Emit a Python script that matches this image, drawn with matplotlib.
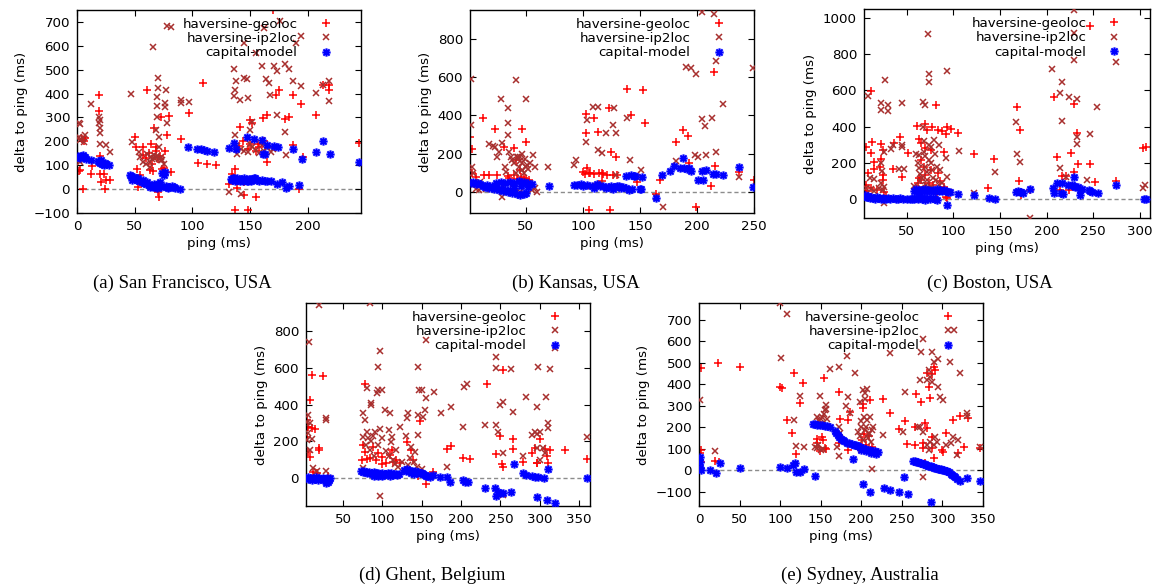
import matplotlib
matplotlib.use("Agg")
import matplotlib.pyplot as plt
from matplotlib.path import Path

# ---------------- data: (a) San Francisco ----------------
sf_geo_x = [1,2,3,5,6,4,7,12,13,19,19,20,20,21,23,24,25,29,
            50,51,52,53,55,57,57,60,61,62,63,64,65,66,67,68,68,70,70,71,72,73,74,75,76,78,80,81,90,97,105,109,113,120,
            132,134,135,137,139,137,140,141,144,145,145,148,148,150,150,152,155,155,157,158,161,162,165,165,170,172,175,180,184,187,187,192,194,196,207,213,218,218,244]
sf_geo_y = [120,75,78,0,200,210,215,65,96,395,325,65,140,30,65,0,37,37,
            217,177,86,8,60,177,142,130,416,150,80,191,107,75,257,177,160,125,-13,-34,140,304,86,90,159,226,307,72,208,318,110,444,104,100,
            22,65,45,86,4,-86,180,262,200,-24,30,-87,170,290,190,278,-34,160,191,175,297,200,114,311,748,395,416,292,304,395,184,1,357,135,311,437,437,416,194]
sf_ip_x = [2,3,2,3,5,6,7,2,3,12,19,19,20,20,20,20,25,29,
           47,48,54,55,57,60,61,63,63,64,65,66,67,67,68,68,69,69,69,69,70,70,71,71,71,73,73,74,75,76,76,77,78,78,81,90,90,97,
           132,136,137,138,136,137,139,139,141,142,142,145,147,148,150,145,145,148,150,152,152,155,155,158,160,160,162,162,164,166,165,167,168,170,171,173,173,176,180,180,181,184,187,190,194,194,207,213,218,218]
sf_ip_y = [276,273,219,205,212,198,226,121,114,357,304,276,255,233,191,290,184,156,
           400,198,156,135,114,107,146,93,112,135,125,595,142,130,135,248,384,349,304,140,466,423,219,177,128,135,120,121,105,360,343,416,276,684,679,374,360,363,
           -13,501,416,451,388,226,181,149,374,-20,170,466,459,381,248,613,160,155,190,283,175,571,165,150,515,185,676,160,459,444,175,395,155,170,515,494,311,705,522,240,142,501,451,613,433,641,402,437,367,451]
sf_cap_x = [1,2,3,4,5,6,7,8,12,18,19,20,21,22,23,24,25,28,
            46,47,48,49,50,52,53,54,56,57,58,60,61,62,63,64,65,66,67,68,69,70,71,72,73,74,75,76,77,78,79,80,82,84,85,89,
            96,104,107,110,113,119,132,
            133,134,135,136,137,138,139,140,141,142,143,144,145,146,147,148,149,150,151,152,153,154,156,158,160,163,165,168,
            136,138,147,153,160,161,163,165,171,174,173,178,181,184,187,192,195,207,213,219,244]
sf_cap_y = [140,135,130,138,142,133,136,128,124,118,112,108,120,105,100,110,104,100,
            60,55,40,50,45,38,48,35,30,40,25,20,30,18,8,15,12,10,20,8,5,20,12,30,10,68,60,70,15,10,5,8,12,8,5,0,
            176,168,166,162,160,155,172,
            42,38,45,45,35,40,48,38,32,44,40,36,46,40,34,35,42,42,36,38,48,45,40,36,38,35,35,35,
            195,170,218,210,205,149,148,185,180,178,20,30,5,15,167,18,125,155,200,145,115]

# ---------------- data: (b) Kansas ----------------
ks_geo_x = [1,3,3,6,12,13,18,23,25,31,34,35,37,40,40,41,42,45,46,47,48,50,50,53,
            100,102,103,103,104,105,105,106,110,110,113,114,117,117,118,121,123,124,125,126,129,130,139,142,147,153,154,164,168,182,188,192,193,199,212,215,216,237,250]
ks_geo_y = [289,224,96,79,385,88,88,327,88,236,84,70,44,88,228,166,65,114,75,327,70,263,68,60,
            105,95,408,306,123,96,-96,98,385,92,315,100,96,55,95,90,438,-96,210,88,184,85,538,403,53,534,363,-14,61,263,324,292,149,-79,32,630,135,102,61]
ks_ip_x = [2,2,3,4,5,6,9,10,15,18,20,21,23,25,26,28,29,29,30,32,33,34,34,34,35,37,38,40,41,41,42,43,44,44,45,45,45,47,47,47,48,49,50,50,51,52,54,55,56,58,58,60,
           69,92,94,103,104,107,109,113,113,115,117,120,126,127,129,129,130,139,141,147,151,164,170,182,190,195,199,198,201,204,207,208,204,215,213,217,217,223,237,249]
ks_ip_y = [590,350,131,96,40,12,9,50,12,250,20,240,236,184,210,485,254,-26,30,131,105,359,438,298,210,184,166,149,587,96,184,180,131,-14,184,160,0,149,114,200,96,170,485,131,140,120,150,10,190,130,20,0,
           131,140,166,263,377,30,443,445,219,40,201,306,350,438,306,88,18,385,166,79,114,-26,-79,161,657,652,618,193,184,380,345,193,946,933,385,686,210,459,79,648]
ks_cap_x = [2,4,6,8,10,12,14,16,18,20,22,24,26,24,28,32,36,40,44,48,52,55,30,34,38,42,45,48,50,28,32,36,40,46,52,
            70,
            92,95,98,100,104,108,112,115,118,122,125,128,130,132,135,138,110,120,126,133,140,
            138,142,145,146,143,150,151,152,164,169,176,180,185,188,189,191,193,195,201,204,205,208,214,217,223,237,249]
ks_cap_y = [45,50,40,48,42,30,25,35,20,28,15,25,10,48,50,45,52,48,55,50,45,42,5,0,-5,-10,-15,-12,-5,15,10,8,20,30,25,
            32,
            35,33,38,32,35,30,38,28,32,25,30,22,28,30,25,20,20,18,15,18,10,
            84,86,82,84,14,12,14,75,-35,88,110,137,123,175,122,118,125,110,61,109,61,114,93,93,88,131,26]

# ---------------- data: (c) Boston ----------------
bo_geo_x = [6,6,6,8,11,11,13,15,15,21,22,22,24,24,24,35,36,43,45,51,8,12,18,25,28,
            61,63,63,65,65,65,68,70,70,70,72,74,76,76,77,81,83,83,88,90,92,92,93,93,97,105,122,137,144,
            60,62,66,69,73,78,82,86,90,
            168,170,171,172,182,208,211,214,217,221,224,226,229,229,233,234,247,247,252,275,303,307]
bo_geo_y = [290,79,48,143,598,257,317,207,165,180,305,220,272,106,134,165,312,341,125,253,30,60,50,40,20,
            404,330,115,308,216,106,180,413,281,134,382,92,272,161,400,519,382,143,378,262,360,15,400,5,387,367,250,60,222,
            60,90,40,70,50,80,30,100,70,
            506,101,382,24,51,561,235,51,130,130,51,257,523,152,363,193,193,954,97,103,281,290]
bo_ip_x = [8,27,22,22,30,30,45,74,74,93,67,70,35,45,45,33,26,42,47,23,22,15,10,6,11,15,20,24,26,22,26,58,65,67,63,68,63,70,76,79,74,77,72,81,84,92,93,106,122,95,145,
           60,62,64,66,68,70,72,74,76,78,80,82,84,86,88,64,71,76,73,
           167,168,171,182,206,214,217,217,214,224,229,229,229,233,233,233,247,243,254,275,303,306,221]
bo_ip_y = [569,657,528,492,519,488,532,690,648,708,538,519,299,299,286,275,262,165,165,156,198,110,116,61,55,48,64,51,70,92,-22,73,61,400,244,323,171,180,290,327,216,161,106,106,79,225,125,268,37,39,149,
           250,200,140,120,260,240,150,300,200,120,250,180,300,160,90,100,80,70,910,
           428,248,204,-105,716,587,648,433,174,565,914,767,1045,552,345,305,360,106,510,758,64,77,125]
bo_cap_x = [5,6,8,8,10,12,14,16,18,20,22,24,26,28,30,32,35,38,40,43,46,50,53,56,58,
            58,60,62,64,66,68,70,72,74,76,78,80,82,84,86,88,90,92,94,96,
            58,62,64,66,68,70,72,75,78,80,82,
            93,105,122,138,145,167,169,171,173,175,182,207,208,211,215,218,217,223,227,229,229,231,234,236,238,236,245,247,249,255,274,305,307]
bo_cap_y = [25,10,15,20,5,12,8,3,10,6,2,8,4,0,6,2,5,0,3,6,2,0,4,0,2,
            45,55,40,50,52,45,55,48,50,45,52,48,55,45,50,47,52,45,40,42,
            5,0,10,3,8,-2,5,0,8,2,-5,
            -30,27,24,9,0,42,45,38,40,35,58,64,37,88,32,30,88,79,80,75,125,70,68,51,55,24,51,45,42,37,79,0,0]

# ---------------- data: (d) Ghent, Belgium ----------------
gh_geo_x = [10,25,8,4,4,6,10,14,4,5,8,19,20,12,17,31,
            78,76,74,80,84,78,88,95,99,92,99,110,114,118,105,112,122,131,137,139,148,146,155,165,182,187,202,211,
            233,245,249,252,254,254,266,266,279,290,294,296,300,297,307,309,310,313,332,360]
gh_geo_y = [560,554,424,316,280,276,271,265,225,144,117,162,153,36,27,12,
            511,180,99,103,108,144,168,135,117,99,76,126,90,99,81,153,81,198,153,99,312,12,-31,36,157,175,108,103,
            509,130,231,77,587,63,211,157,90,135,166,81,211,81,157,121,81,153,153,103]
gh_ip_x = [19,7,29,84,97,95,146,156,244,245,264,298,313,320,
           6,4,8,6,11,4,8,12,17,28,28,
           80,94,93,86,86,76,78,80,76,82,91,97,79,84,76,103,110,108,112,111,118,122,100,133,131,130,137,141,135,146,147,150,156,154,152,146,166,174,187,182,97,
           85,88,90,95,100,105,108,113,116,120,125,133,140,144,150,
           203,204,208,230,245,247,250,254,266,253,254,279,283,296,290,294,297,300,304,307,296,308,310,310,360,300]
gh_ip_y = [939,740,325,952,690,605,605,750,659,596,592,605,592,707,
           343,307,298,244,211,207,153,54,41,316,41,
           488,479,461,406,397,352,316,253,226,217,253,265,180,153,54,370,352,262,226,198,153,280,480,352,325,229,171,144,108,235,479,479,433,370,334,343,470,352,388,63,-96,
           200,230,120,180,220,150,120,100,80,60,90,70,90,60,50,
           280,497,509,289,289,253,397,415,361,135,-90,121,442,388,235,253,240,253,162,135,162,439,298,274,226,99]
gh_cap_x = [5,6,8,10,12,14,16,18,20,22,24,26,28,30,32,34,29,31,
            73,75,77,79,81,83,85,87,89,91,93,95,97,99,101,103,105,107,109,111,113,115,117,119,121,90,95,100,110,
            128,130,132,134,136,138,140,142,144,146,148,150,152,154,156,158,160,136,140,
            165,173,182,186,203,205,209,230,243,245,247,250,254,264,267,279,283,290,294,298,296,305,310,309,319,360]
gh_cap_y = [5,-5,0,-10,2,-3,5,-8,0,-5,3,-2,-12,0,-8,2,-25,-20,
            40,35,38,32,30,35,28,25,33,30,22,28,25,30,20,26,22,30,25,28,20,25,22,18,24,12,10,14,12,
            45,40,48,42,38,40,35,38,30,33,28,30,25,20,15,10,5,30,25,
            18,9,5,-18,-9,-18,-18,-55,-51,-94,-73,-78,-78,-73,78,27,18,12,9,9,-103,0,48,-118,-132,0]

# ---------------- data: (e) Sydney, Australia ----------------
sy_geo_x = [2,1,3,2,24,20,25,50,100,102,108,114,117,120,124,128,146,146,147,149,151,153,154,155,156,172,172,174,184,184,186,197,201,202,202,203,206,210,211,213,
            227,235,246,254,256,266,266,268,274,276,278,278,276,281,283,285,287,287,287,289,289,291,281,299,301,305,313,319,322,326,332,346]
sy_geo_y = [478,79,37,95,501,45,40,483,386,382,234,175,452,76,312,408,144,125,227,90,157,141,428,102,100,366,126,237,234,95,273,100,140,309,289,170,120,160,328,110,
            331,265,191,231,123,203,118,355,320,126,219,33,102,196,389,335,447,157,102,483,56,467,452,95,87,172,234,82,253,110,242,102]
sy_ip_x = [1,20,100,108,101,182,235,161,172,192,117,124,120,129,149,155,157,151,146,143,145,148,150,152,154,156,158,150,153,147,
           172,174,170,172,181,184,186,198,202,205,200,207,205,209,213,202,211,213,196,198,200,203,206,208,210,212,215,204,207,227,254,252,274,276,272,270,276,
           287,294,289,283,285,287,281,297,301,309,322,314,330,330,295,291,293,305,313,311,285,272,276,281,289,283,319,318,346]
sy_ip_y = [327,92,778,728,522,532,545,470,480,452,234,346,113,110,346,281,304,250,102,110,250,230,240,215,260,285,240,95,100,120,
           200,172,110,67,300,343,265,320,374,358,203,234,188,172,188,141,250,5,180,160,230,250,200,150,170,130,200,330,380,164,366,180,553,610,421,203,-30,
           553,518,506,467,436,413,421,343,327,506,452,653,265,253,390,157,133,118,157,126,133,203,180,118,118,95,141,71,110]
sy_cap_x = [1,1,1,2,14,21,26,50,100,108,116,118,120,124,129,143,
            140,143,146,149,152,155,158,161,167,169,171,173,175,177,179,182,185,188,191,194,190,196,199,202,205,208,211,214,217,220,200,206,212,218,
            202,211,228,235,246,257,253,
            264,266,268,270,272,274,276,278,280,282,284,286,288,290,292,294,296,298,300,302,304,306,308,310,312,314,316,318,322,330,346,286]
sy_cap_y = [64,40,9,2,0,-14,33,12,17,9,25,36,-6,-6,5,-25,
            218,215,213,212,210,208,205,200,185,175,165,155,145,140,135,128,125,122,120,117,51,115,110,105,100,97,93,90,88,85,95,90,80,75,
            -64,-100,-80,-90,-99,-110,-33,
            45,42,40,38,35,32,30,28,25,22,20,18,15,12,10,8,6,4,2,0,-2,-5,-10,-15,-20,-25,-30,-40,-48,-37,-48,-148]

series_labels = ["haversine-geoloc", "haversine-ip2loc", "capital-model"]
captions = ["(a) San Francisco, USA", "(b) Kansas, USA", "(c) Boston, USA",
            "(d) Ghent, Belgium", "(e) Sydney, Australia"]

W, H = 1153, 587
fig = plt.figure(figsize=(W / 100, H / 100), dpi=100)
plt.rcParams["font.family"] = ["DejaVu Sans"]
FS = 9.6

RED = "#ff0000"
BROWN = "#a8302f"
BLUE = "#0000ff"

# gnuplot-style asterisk: a plus and a cross drawn through one centre
_d = 0.75
STAR = Path([(-1, 0), (1, 0), (0, -1), (0, 1),
             (-_d, -_d), (_d, _d), (-_d, _d), (_d, -_d)],
            [Path.MOVETO, Path.LINETO] * 4)


def frame(l, t, r, b):
    return [l / W, 1 - b / H, (r - l) / W, (b - t) / H]


panels = [
    dict(box=(77, 10, 361, 213), xlim=(0, 246), ylim=(-100, 750),
         xt=[0, 50, 100, 150, 200], yt=list(range(-100, 701, 100)),
         data=(sf_geo_x, sf_geo_y, sf_ip_x, sf_ip_y, sf_cap_x, sf_cap_y),
         cap=(182, 283)),
    dict(box=(470, 10, 754, 213), xlim=(1, 250), ylim=(-112, 954),
         xt=[50, 100, 150, 200, 250], yt=[0, 200, 400, 600, 800],
         data=(ks_geo_x, ks_geo_y, ks_ip_x, ks_ip_y, ks_cap_x, ks_cap_y),
         cap=(576, 283)),
    dict(box=(864, 9, 1150, 218), xlim=(4, 311), ylim=(-103, 1048),
         xt=[50, 100, 150, 200, 250, 300], yt=[0, 200, 400, 600, 800, 1000],
         data=(bo_geo_x, bo_geo_y, bo_ip_x, bo_ip_y, bo_cap_x, bo_cap_y),
         cap=(990, 283)),
    dict(box=(306, 303, 590, 506), xlim=(3, 364), ylim=(-150, 950),
         xt=[50, 100, 150, 200, 250, 300, 350], yt=[0, 200, 400, 600, 800],
         data=(gh_geo_x, gh_geo_y, gh_ip_x, gh_ip_y, gh_cap_x, gh_cap_y),
         cap=(432, 575)),
    dict(box=(699, 303, 983, 506), xlim=(0, 350), ylim=(-166, 779),
         xt=list(range(0, 351, 50)), yt=list(range(-100, 701, 100)),
         data=(sy_geo_x, sy_geo_y, sy_ip_x, sy_ip_y, sy_cap_x, sy_cap_y),
         cap=(860, 575)),
]

for p, caption in zip(panels, captions):
    ax = fig.add_axes(frame(*p["box"]))
    gx, gy, ix, iy, cx, cy = p["data"]
    ax.axhline(0, color="#8c8c8c", lw=1.0, ls=(0, (3, 2)), zorder=1)
    ax.plot(gx, gy, ls="none", marker="+", ms=6, mew=1.1, color=RED,
            label=series_labels[0], zorder=2)
    ax.plot(ix, iy, ls="none", marker="x", ms=5, mew=1.1, color=BROWN,
            label=series_labels[1], zorder=3)
    ax.plot(cx, cy, ls="none", marker=STAR, ms=6, mew=1.5, color=BLUE,
            label=series_labels[2], zorder=4)
    ax.set_xlim(*p["xlim"])
    ax.set_ylim(*p["ylim"])
    ax.set_xticks(p["xt"])
    ax.set_yticks(p["yt"])
    ax.tick_params(direction="in", top=True, right=True, length=4, width=0.8,
                   labelsize=FS, pad=5)
    for s in ax.spines.values():
        s.set_linewidth(1.0)
    ax.set_xlabel("ping (ms)", fontsize=FS, labelpad=3)
    ax.set_ylabel("delta to ping (ms)", fontsize=FS, labelpad=4)
    ax.legend(loc="upper right", bbox_to_anchor=(0.894, 0.962), borderaxespad=0,
              borderpad=0, frameon=False, markerfirst=False, fontsize=FS,
              handlelength=0.8, handletextpad=1.7, labelspacing=0.1)
    fig.text(p["cap"][0] / W, 1 - p["cap"][1] / H, caption,
             family="Liberation Serif", fontsize=13.5, ha="center", va="center")

fig.savefig("out.png", dpi=100)
